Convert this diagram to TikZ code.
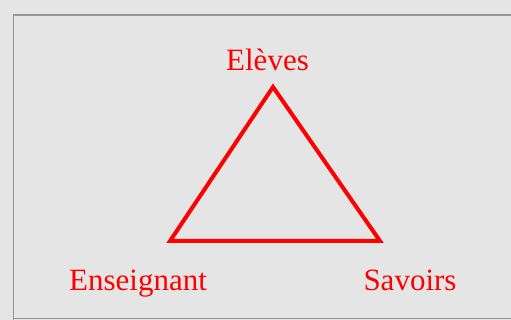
\documentclass[tikz,border=0pt]{standalone}
\usepackage{fontspec}
\setmainfont{Liberation Serif}
\definecolor{panel}{RGB}{229,229,229}
\definecolor{frame}{RGB}{150,150,150}
\tikzset{pole/.style={text=red, font=\fontsize{31}{37}\selectfont, anchor=base, inner sep=0pt}}

\begin{document}
\begin{tikzpicture}[x=1pt, y=1pt]
\fill[panel] (0,0) rectangle (511,320);
\useasboundingbox (0,0) rectangle (511,320);
\draw[frame, line width=1.2pt] (13.5,-5) -- (13.5,305) -- (520,305);
\draw[frame, line width=1pt] (13.5,1) -- (520,1);
\coordinate (eleves) at (273,233);
\coordinate (ens) at (170,79);
\coordinate (sav) at (380,79);
\draw[red, line width=4pt] (eleves) -- (sav) -- (ens) -- cycle;
\node[pole] (leleves) at (267.5,249) {Elèves};
\node[pole] (lens) at (138,29) {Enseignant};
\node[pole] (lsav) at (410,29) {Savoirs};
\end{tikzpicture}
\end{document}
